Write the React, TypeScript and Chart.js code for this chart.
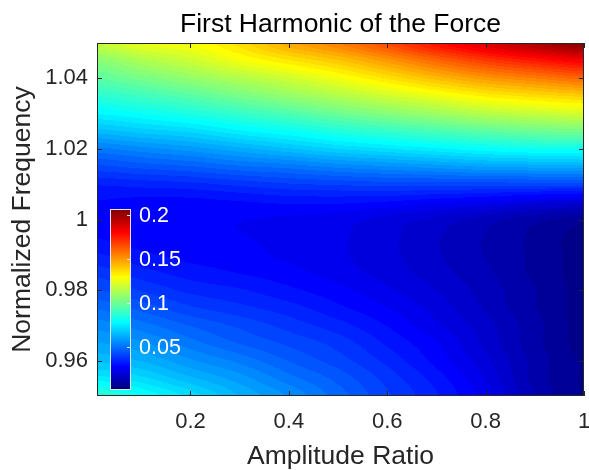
import { useEffect, useRef } from 'react';
import { Chart, registerables } from 'chart.js';

Chart.register(...registerables);

// Grid of the field: columns = amplitude ratio, rows = normalized frequency (top to bottom)
const AMPLITUDE_RATIO = [0.01, 0.1, 0.2, 0.3, 0.4, 0.5, 0.6, 0.7, 0.8, 0.9, 1.0];
const NORMALIZED_FREQUENCY = [
  1.05, 1.045, 1.04, 1.035, 1.03, 1.025, 1.02, 1.015, 1.01, 1.005, 1.0,
  0.995, 0.99, 0.985, 0.98, 0.975, 0.97, 0.965, 0.96, 0.955, 0.95,
];
const FIRST_HARMONIC = [
  [0.118, 0.125, 0.128, 0.136, 0.147, 0.155, 0.166, 0.178, 0.188, 0.197, 0.205],
  [0.106, 0.113, 0.119, 0.127, 0.134, 0.141, 0.150, 0.160, 0.169, 0.176, 0.182],
  [0.097, 0.102, 0.108, 0.114, 0.120, 0.127, 0.135, 0.143, 0.150, 0.155, 0.160],
  [0.087, 0.091, 0.096, 0.102, 0.108, 0.114, 0.120, 0.126, 0.132, 0.136, 0.139],
  [0.077, 0.080, 0.084, 0.089, 0.094, 0.100, 0.105, 0.110, 0.115, 0.118, 0.121],
  [0.065, 0.068, 0.071, 0.076, 0.080, 0.085, 0.089, 0.093, 0.097, 0.100, 0.102],
  [0.052, 0.055, 0.058, 0.062, 0.066, 0.070, 0.073, 0.076, 0.079, 0.081, 0.082],
  [0.042, 0.044, 0.046, 0.049, 0.051, 0.054, 0.056, 0.058, 0.060, 0.061, 0.062],
  [0.033, 0.034, 0.035, 0.037, 0.039, 0.040, 0.041, 0.041, 0.041, 0.041, 0.041],
  [0.029, 0.028, 0.028, 0.029, 0.030, 0.030, 0.029, 0.027, 0.025, 0.022, 0.020],
  [0.028, 0.026, 0.026, 0.026, 0.025, 0.024, 0.021, 0.018, 0.014, 0.010, 0.007],
  [0.029, 0.027, 0.027, 0.026, 0.025, 0.023, 0.020, 0.016, 0.012, 0.008, 0.004],
  [0.033, 0.030, 0.028, 0.027, 0.025, 0.023, 0.020, 0.016, 0.012, 0.008, 0.004],
  [0.038, 0.034, 0.031, 0.029, 0.027, 0.024, 0.021, 0.017, 0.013, 0.008, 0.004],
  [0.043, 0.039, 0.035, 0.033, 0.030, 0.027, 0.023, 0.019, 0.014, 0.009, 0.004],
  [0.049, 0.045, 0.040, 0.037, 0.034, 0.030, 0.026, 0.021, 0.015, 0.009, 0.004],
  [0.055, 0.051, 0.046, 0.042, 0.038, 0.034, 0.029, 0.023, 0.017, 0.010, 0.004],
  [0.060, 0.057, 0.051, 0.046, 0.042, 0.038, 0.032, 0.026, 0.018, 0.010, 0.004],
  [0.066, 0.063, 0.057, 0.052, 0.046, 0.041, 0.035, 0.028, 0.020, 0.011, 0.005],
  [0.075, 0.071, 0.064, 0.058, 0.051, 0.045, 0.038, 0.031, 0.022, 0.011, 0.005],
  [0.088, 0.080, 0.072, 0.063, 0.056, 0.048, 0.040, 0.033, 0.024, 0.012, 0.005],
];

const X_TICKS = [0.2, 0.4, 0.6, 0.8, 1];
const Y_TICKS = [0.96, 0.98, 1, 1.02, 1.04];
const COLORBAR_TICKS = [0.05, 0.1, 0.15, 0.2];
const C_MIN = 0.002;
const C_MAX = 0.206;
const LEVELS = 60;

const TITLE = 'First Harmonic of the Force';
const X_LABEL = 'Amplitude Ratio';
const Y_LABEL = 'Normalized Frequency';

const FONT = '"Liberation Sans", Arial, Helvetica, sans-serif';
const AXIS_COLOR = '#262626';

function clamp01(v: number) {
  return v < 0 ? 0 : v > 1 ? 1 : v;
}

function jet(t: number): [number, number, number] {
  const r = clamp01(1.5 - Math.abs(4 * t - 3));
  const g = clamp01(1.5 - Math.abs(4 * t - 2));
  const b = clamp01(1.5 - Math.abs(4 * t - 1));
  return [Math.round(r * 255), Math.round(g * 255), Math.round(b * 255)];
}

// Catmull-Rom weights
function crWeights(t: number): [number, number, number, number] {
  const t2 = t * t;
  const t3 = t2 * t;
  return [
    -0.5 * t3 + t2 - 0.5 * t,
    1.5 * t3 - 2.5 * t2 + 1,
    -1.5 * t3 + 2 * t2 + 0.5 * t,
    0.5 * t3 - 0.5 * t2,
  ];
}

function cell(j: number, i: number) {
  const jj = Math.max(0, Math.min(NORMALIZED_FREQUENCY.length - 1, j));
  const ii = Math.max(0, Math.min(AMPLITUDE_RATIO.length - 1, i));
  return FIRST_HARMONIC[jj][ii];
}

function sampleField(xv: number, yv: number): number {
  const xs = AMPLITUDE_RATIO;
  const ys = NORMALIZED_FREQUENCY;
  let i = 0;
  while (i < xs.length - 2 && xv > xs[i + 1]) i++;
  let j = 0;
  while (j < ys.length - 2 && yv < ys[j + 1]) j++;
  const tx = clamp01((xv - xs[i]) / (xs[i + 1] - xs[i]));
  const ty = clamp01((ys[j] - yv) / (ys[j] - ys[j + 1]));
  const wx = crWeights(tx);
  const wy = crWeights(ty);
  let v = 0;
  for (let a = 0; a < 4; a++) {
    let row = 0;
    for (let b = 0; b < 4; b++) row += wx[b] * cell(j - 1 + a, i - 1 + b);
    v += wy[a] * row;
  }
  return v;
}

const heatmapPlugin = {
  id: 'heatmap',
  beforeDatasetsDraw(chart: any) {
    const { ctx, chartArea: a, scales } = chart;
    const xs = scales.x;
    const ys = scales.y;
    const left = Math.round(a.left);
    const top = Math.round(a.top);
    const w = Math.round(a.right) - left;
    const h = Math.round(a.bottom) - top;
    const img = ctx.createImageData(w, h);
    const step = (C_MAX - C_MIN) / LEVELS;
    for (let py = 0; py < h; py++) {
      const yv = ys.getValueForPixel(top + py + 0.5);
      for (let px = 0; px < w; px++) {
        const xv = xs.getValueForPixel(left + px + 0.5);
        const v = sampleField(xv, yv);
        const lvl = Math.max(0, Math.min(LEVELS - 1, Math.floor((v - C_MIN) / step)));
        const vq = C_MIN + (lvl + 0.5) * step;
        const [r, g, b] = jet((vq - C_MIN) / (C_MAX - C_MIN));
        const k = (py * w + px) * 4;
        img.data[k] = r;
        img.data[k + 1] = g;
        img.data[k + 2] = b;
        img.data[k + 3] = 255;
      }
    }
    ctx.putImageData(img, left, top);
  },
  afterDraw(chart: any) {
    const { ctx, chartArea: a, scales } = chart;
    const xs = scales.x;
    const ys = scales.y;
    ctx.save();
    ctx.strokeStyle = AXIS_COLOR;
    ctx.lineWidth = 1;
    const tl = 5;
    ctx.beginPath();
    X_TICKS.forEach((t) => {
      const px = Math.round(xs.getPixelForValue(t)) + 0.5;
      ctx.moveTo(px, a.bottom);
      ctx.lineTo(px, a.bottom - tl);
      ctx.moveTo(px, a.top);
      ctx.lineTo(px, a.top + tl);
    });
    Y_TICKS.forEach((t) => {
      const py = Math.round(ys.getPixelForValue(t)) + 0.5;
      ctx.moveTo(a.left, py);
      ctx.lineTo(a.left + tl, py);
      ctx.moveTo(a.right, py);
      ctx.lineTo(a.right - tl, py);
    });
    ctx.stroke();
    ctx.strokeRect(a.left + 0.5, a.top + 0.5, a.right - a.left - 1, a.bottom - a.top - 1);

    // colorbar inside the axes
    const cbLeft = a.left + 14;
    const cbWidth = 19;
    const cbTop = a.top + 167;
    const cbBottom = a.bottom - 7;
    const cbH = cbBottom - cbTop;
    for (let py = 0; py < cbH; py++) {
      const t = 1 - (py + 0.5) / cbH;
      const [r, g, b] = jet(t);
      ctx.fillStyle = `rgb(${r},${g},${b})`;
      ctx.fillRect(cbLeft, cbTop + py, cbWidth, 1);
    }
    ctx.strokeStyle = '#e6e6e6';
    ctx.strokeRect(cbLeft - 0.5, cbTop - 0.5, cbWidth + 1, cbH + 1);
    ctx.fillStyle = '#ffffff';
    ctx.font = `21.5px ${FONT}`;
    ctx.textAlign = 'left';
    ctx.textBaseline = 'middle';
    COLORBAR_TICKS.forEach((t) => {
      const py = cbBottom - ((t - C_MIN) / (C_MAX - C_MIN)) * cbH;
      ctx.beginPath();
      ctx.moveTo(cbLeft + cbWidth, Math.round(py) + 0.5);
      ctx.lineTo(cbLeft + cbWidth - 3, Math.round(py) + 0.5);
      ctx.stroke();
      ctx.fillText(String(t), cbLeft + cbWidth + 9, py + 1);
    });

    // title centred over the axes
    ctx.fillStyle = '#000000';
    ctx.font = `26.5px ${FONT}`;
    ctx.textAlign = 'center';
    ctx.textBaseline = 'alphabetic';
    ctx.fillText(TITLE, (a.left + a.right) / 2, 32);
    ctx.restore();
  },
};

export default function App() {
  const canvasRef = useRef<HTMLCanvasElement | null>(null);

  useEffect(() => {
    const canvas = canvasRef.current;
    if (!canvas) return;
    Chart.defaults.font.family = FONT;
    const chart = new Chart(canvas, {
      type: 'scatter',
      data: { datasets: [{ data: [], pointRadius: 0 }] },
      options: {
        animation: false,
        responsive: false,
        devicePixelRatio: 1,
        layout: { padding: { top: 43, right: 5, left: 0, bottom: 0 } },
        plugins: {
          legend: { display: false },
          tooltip: { enabled: false },
          title: { display: false },
        },
        scales: {
          x: {
            type: 'linear',
            position: 'bottom',
            min: 0.01,
            max: 1,
            grid: { display: false, drawTicks: false },
            border: { display: false },
            afterBuildTicks: (s: any) => {
              s.ticks = X_TICKS.map((v) => ({ value: v }));
            },
            afterFit: (s: any) => {
              s.height = 74;
              s.paddingLeft = 0;
              s.paddingRight = 0;
            },
            ticks: {
              autoSkip: false,
              maxRotation: 0,
              padding: 13,
              color: AXIS_COLOR,
              font: { size: 22 },
              callback: (v: any) => String(v),
            },
            title: {
              display: true,
              text: X_LABEL,
              color: AXIS_COLOR,
              font: { size: 26.5, lineHeight: 1 },
              padding: { top: 0, bottom: 0 },
            },
          },
          y: {
            type: 'linear',
            min: 0.95,
            max: 1.05,
            grid: { display: false, drawTicks: false },
            border: { display: false },
            afterBuildTicks: (s: any) => {
              s.ticks = Y_TICKS.map((v) => ({ value: v }));
            },
            afterFit: (s: any) => {
              s.width = 97;
              s.paddingTop = 0;
              s.paddingBottom = 0;
            },
            ticks: {
              autoSkip: false,
              padding: 9,
              color: AXIS_COLOR,
              font: { size: 22 },
              callback: (v: any) => String(v),
            },
            title: {
              display: true,
              text: Y_LABEL,
              color: AXIS_COLOR,
              font: { size: 26.5, lineHeight: 1 },
              padding: { top: 9, bottom: 0 },
            },
          },
        },
      },
      plugins: [heatmapPlugin],
    } as any);
    return () => chart.destroy();
  }, []);

  return (
    <div style={{ position: 'absolute', left: 0, top: 0, width: 589, height: 470, background: '#ffffff' }}>
      <canvas ref={canvasRef} width={589} height={470} style={{ width: 589, height: 470, display: 'block' }} />
    </div>
  );
}
